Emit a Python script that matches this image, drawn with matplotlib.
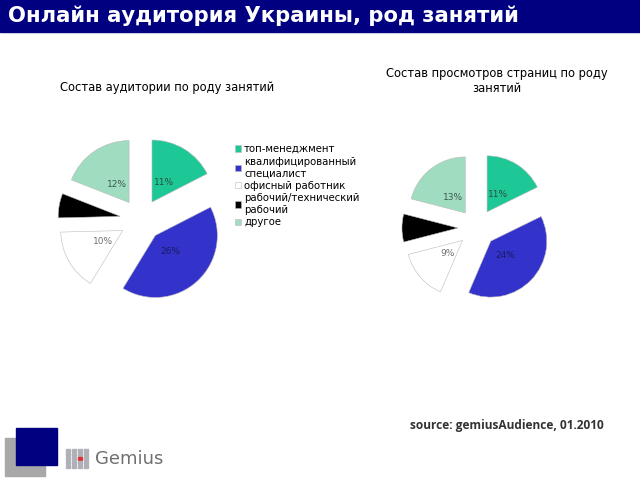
import matplotlib.pyplot as plt
from matplotlib.patches import Rectangle

# categories (legend)
categories = ['топ-менеджмент', 'квалифицированный\nспециалист', 'офисный работник',
              'рабочий/технический\nрабочий', 'другое']
colors = ['#1ec896', '#3333cc', '#ffffff', '#000000', '#a0dcc0']
label_colors = ['#2d4d40', '#1a1a60', '#707070', '#000000', '#3d5a4d']

# values (%)
audience = [11, 26, 10, 4, 12]
pageviews = [11, 24, 9, 5, 13]

title = 'Онлайн аудитория Украины, род занятий'
title_left = 'Состав аудитории по роду занятий'
title_right = 'Состав просмотров страниц по роду\nзанятий'
source = 'source: gemiusAudience, 01.2010'

fig = plt.figure(figsize=(6.4, 4.8), dpi=100)
W, H = 640, 480


def px(x, y, w, h):
    # pixel box (top-left origin) -> figure fraction
    return [x / W, 1 - (y + h) / H, w / W, h / H]


# header band
fig.patches.append(Rectangle((0, 1 - 32 / H), 1, 32 / H, transform=fig.transFigure,
                             color='#000080', zorder=0))
fig.text(8 / W, 1 - 16 / H, title, color='white', fontsize=15.2, fontweight='bold',
         va='center', ha='left')


def draw_pie(box, values):
    ax = fig.add_axes(px(*box))
    wedges, texts, autotexts = ax.pie(
        values, colors=colors, startangle=90, counterclock=False,
        explode=[0.34] * len(values), autopct='%d%%', pctdistance=0.36,
        wedgeprops=dict(edgecolor='#bbbbbb', linewidth=0.4),
        textprops=dict(fontsize=6.5))
    for t, v, c in zip(autotexts, values, label_colors):
        t.set_text(f'{v}%')
        t.set_color(c)
        # label on the black slice is not readable in the original
        t.set_visible(c != '#000000')
    ax.set_xlim(-1.5, 1.5)
    ax.set_ylim(-1.5, 1.5)
    ax.set_aspect('equal')
    ax.axis('off')
    return wedges


wedges = draw_pie((48, 127, 186, 186), audience)
draw_pie((393, 144, 168, 168), pageviews)

fig.text(167 / W, 1 - 87 / H, title_left, fontsize=8.3, ha='center', va='center')
fig.text(497 / W, 1 - 81 / H, title_right, fontsize=8.3, ha='center', va='center',
         linespacing=1.25)

leg = fig.legend(wedges, categories, loc='upper left',
                 bbox_to_anchor=(235 / W, 1 - 144 / H), frameon=False,
                 fontsize=7.3, handlelength=0.6, handleheight=0.6, handletextpad=0.3,
                 labelspacing=0.25, borderpad=0, borderaxespad=0)
for h in leg.legend_handles:
    h.set_edgecolor('#bbbbbb')
    h.set_linewidth(0.4)

fig.text(410 / W, 1 - 425 / H, source, fontsize=8.6, fontweight='bold',
         color='#333333', ha='left', va='center', family='Open Sans')

# logo
fig.patches.append(Rectangle((5 / W, 1 - 476 / H), 40 / W, 38 / H,
                             transform=fig.transFigure, color='#a8a8a8', zorder=1))
fig.patches.append(Rectangle((16 / W, 1 - 465 / H), 41 / W, 37 / H,
                             transform=fig.transFigure, color='#000080', zorder=2))
for i in range(4):
    for j in range(5):
        c = '#dd3333' if (i == 2 and j == 2) else '#b0b0b8'
        fig.patches.append(Rectangle(((66 + i * 6) / W, 1 - (449 + j * 4 + 3) / H),
                                     4 / W, 3 / H, transform=fig.transFigure,
                                     color=c, zorder=2))
fig.text(95 / W, 1 - 459 / H, 'Gemius', fontsize=13, color='#707070',
         ha='left', va='center')

fig.savefig('out.png', dpi=100)
